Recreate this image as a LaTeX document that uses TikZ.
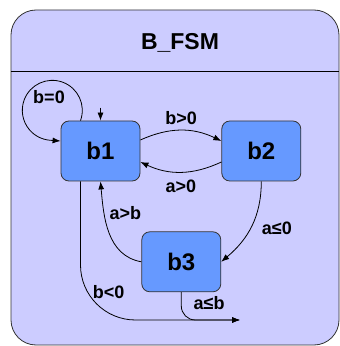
\documentclass[tikz,border=0pt]{standalone}
\usepackage{fontspec}
\setmainfont{Liberation Sans}
\usetikzlibrary{arrows.meta}
\usetikzlibrary{positioning}
\definecolor{lav}{RGB}{204,204,255}
\definecolor{stfill}{RGB}{102,153,255}
\definecolor{edge}{RGB}{51,51,51}

\begin{document}
\begin{tikzpicture}[x=1pt,y=1pt,
    state/.style={draw=edge, fill=stfill, rounded corners=8pt, line width=0.8pt,
      minimum width=79pt, minimum height=60pt, font=\bfseries\fontsize{24}{24}\selectfont},
    arr/.style={-{Latex[length=8pt,width=6pt]}, line width=0.8pt, draw=black},
    lbl/.style={font=\bfseries\fontsize{18}{18}\selectfont, inner sep=2pt}]
          \useasboundingbox (0,0) rectangle (340,346);
          %the machine box with its title
          \node[draw=edge, fill=lav, rounded corners=25pt, line width=0.8pt,
            minimum width=328pt, minimum height=335pt] (fsm) at (175,168.5) {};
          \node[font=\bfseries\fontsize{23}{23}\selectfont] (title) at (180,303) {B\_FSM};
          \draw[line width=0.8pt] (fsm.west |- 0,275) -- (fsm.east |- 0,275);
          %states
          \node[state] (b1) at (100.5,195) {b1};
          \node[state, right=81pt of b1] (b2) {b2};
          \node[state, below right=50pt and 1pt of b1] (b3) {b3};
          \coordinate (init) at ([yshift=13pt]b1.north);
          \coordinate (exit) at (240,26);
          %transitions
          \draw[arr] (init) -- (b1.north);
          \draw[arr] ([xshift=-20pt]b1.north) arc[start angle=-20, end angle=265, radius=30pt]
            -- ([yshift=10pt]b1.west);
          \node[lbl] (loop) at (49,249) {b=0};
          \draw[arr] ([yshift=11pt]b1.east) to[bend left=25] node[lbl, above=3pt] {b>0} ([yshift=10pt]b2.west);
          \draw[arr] ([yshift=-11pt]b2.west) to[bend left=25] node[lbl, below=6pt] {a>0} ([yshift=-11pt]b1.east);
          \draw[arr] (b2.south) to[out=-90,in=40] node[lbl, right=9pt, pos=0.52] {a≤0} (b3.east);
          \draw[arr] (b3.west) to[out=170,in=-85] node[lbl, right=3pt, pos=0.7] {a>b} (b1.south);
          \draw[arr, rounded corners=55pt] ([xshift=-20pt]b1.south) |- node[lbl, pos=0.4, right=10pt] {b<0} (exit);
          \draw[arr, rounded corners=14pt] (b3.south) |- node[lbl, pos=0.2, right=10pt] {a≤b} (exit);
      \end{tikzpicture}
\end{document}
